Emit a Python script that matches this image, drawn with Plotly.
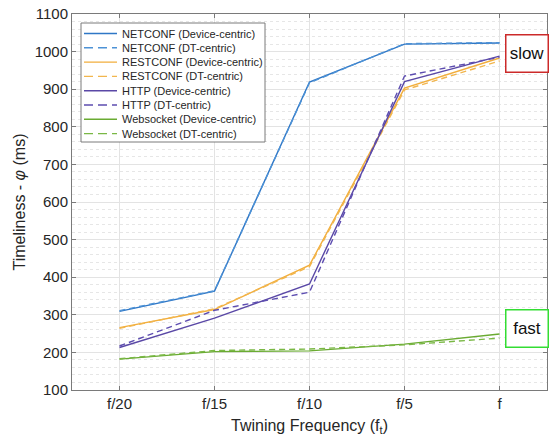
import plotly.graph_objects as go

categories = ["f/20", "f/15", "f/10", "f/5", "f"]
x_pos = [1, 2, 3, 4, 5]

netconf_dev = [309, 363, 919, 1020, 1023]
netconf_dt = [311, 364, 917, 1021, 1024]
restconf_dev = [266, 314, 432, 903, 983]
restconf_dt = [264, 316, 428, 898, 975]
http_dev = [213, 291, 382, 920, 988]
http_dt = [217, 312, 360, 935, 985]
ws_dev = [182, 202, 204, 222, 249]
ws_dt = [183, 205, 209, 220, 238]

series = [
    ("NETCONF (Device-centric)", netconf_dev, "#2f77c6", "solid"),
    ("NETCONF (DT-centric)", netconf_dt, "#4d92d6", "6px,4px"),
    ("RESTCONF (Device-centric)", restconf_dev, "#f2ae3c", "solid"),
    ("RESTCONF (DT-centric)", restconf_dt, "#f2b64e", "6px,4px"),
    ("HTTP (Device-centric)", http_dev, "#5a48a6", "solid"),
    ("HTTP (DT-centric)", http_dt, "#5d4db0", "6px,4px"),
    ("Websocket (Device-centric)", ws_dev, "#6aab32", "solid"),
    ("Websocket (DT-centric)", ws_dt, "#7ab845", "6px,4px"),
]

fig = go.Figure()
for name, vals, color, dash in series:
    fig.add_trace(go.Scatter(x=x_pos, y=vals, mode="lines", name=name, showlegend=False,
                             line=dict(color=color, width=1.4, dash=dash)))

FONT = "Liberation Sans, Arial, sans-serif"
axis_common = dict(
    showline=True, linecolor="#7a7a7a", linewidth=1, mirror="allticks",
    ticks="inside", ticklen=4, tickcolor="#7a7a7a",
    gridcolor="#e3e3e3", gridwidth=1, zeroline=False,
    tickfont=dict(family=FONT, size=15, color="#262626"),
)
fig.update_xaxes(**axis_common, range=[0.5, 5.5], tickvals=x_pos, ticktext=categories,
                 title=dict(text="Twining Frequency (f<sub>t</sub>)",
                            font=dict(family=FONT, size=16, color="#262626"), standoff=8))
fig.update_yaxes(**axis_common, range=[100, 1100], dtick=100,
                 minor=dict(dtick=20, showgrid=True, gridcolor="#e6e6e6", griddash="dot", ticks=""),
                 title=dict(text="Timeliness - <i>φ</i> (ms)",
                            font=dict(family=FONT, size=16, color="#262626"), standoff=5))

# manual legend (compact, like MATLAB)
PLOT_L, PLOT_W, PLOT_B, PLOT_H = 72, 475, 390, 376
def px(xp):
    return (xp - PLOT_L) / PLOT_W
def py(yp):
    return (PLOT_B - yp) / PLOT_H

fig.add_shape(type="rect", xref="paper", yref="paper",
              x0=px(81), x1=px(265), y0=py(142), y1=py(23),
              line=dict(color="#7a7a7a", width=1), fillcolor="white", layer="above")
row0, row_step = 33.5, 14.3
for i, (name, vals, color, dash) in enumerate(series):
    yc = row0 + i * row_step
    fig.add_shape(type="line", xref="paper", yref="paper",
                  x0=px(84), x1=px(117), y0=py(yc), y1=py(yc),
                  line=dict(color=color, width=1.4, dash="9px,5px" if dash != "solid" else "solid"),
                  layer="above")
    fig.add_annotation(xref="paper", yref="paper", x=px(120), y=py(yc), text=name,
                       showarrow=False, xanchor="left", yanchor="middle",
                       font=dict(family=FONT, size=11, color="#262626"))

fig.add_annotation(x=5.285, y=996, xref="x", yref="y", text="slow", showarrow=False,
                   font=dict(family=FONT, size=17, color="#111111"),
                   bordercolor="#cc2a2a", borderwidth=1.5, borderpad=2, bgcolor="white",
                   width=37, height=32)
fig.add_annotation(x=5.285, y=263, xref="x", yref="y", text="fast", showarrow=False,
                   font=dict(family=FONT, size=17, color="#111111"),
                   bordercolor="#33dd33", borderwidth=1.5, borderpad=2, bgcolor="white",
                   width=37, height=32)

fig.update_layout(
    width=549, height=438,
    margin=dict(l=72, r=2, t=14, b=48),
    paper_bgcolor="white", plot_bgcolor="white",
    showlegend=False,
)
fig.write_html("out.html")
